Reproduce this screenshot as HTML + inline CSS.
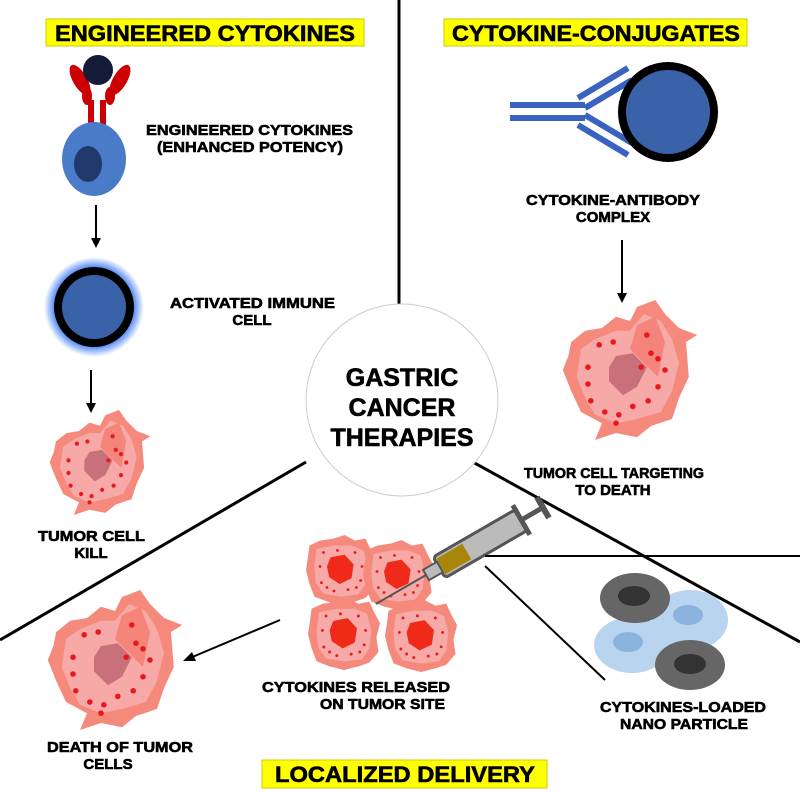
<!DOCTYPE html><html><head><style>body{margin:0;background:#fff}svg{display:block}
text{font-family:"Liberation Sans",sans-serif;font-weight:bold;fill:#000;stroke:#000;stroke-width:0.6}</style></head><body>
<svg width="800" height="792" viewBox="0 0 800 792">
<defs>
<radialGradient id="glow"><stop offset="80%" stop-color="#5b8ff5"/><stop offset="100%" stop-color="#5b8ff5" stop-opacity="0"/></radialGradient>
<symbol id="tum" viewBox="0 0 100 100">
<path d="M8,30 L18,22 L30,20 L40,12 L50,15 L55,5 L68,0 L75,10 L85,20 L98,25 L90,30 L92,55 L85,70 L80,85 L65,90 L55,98 L40,95 L25,100 L30,88 L15,80 L8,65 L2,50 L6,40 Z" fill="#f58a7c"/>
<path d="M15,35 L25,28 L40,22 L50,22 L60,10 L72,15 L80,28 L85,45 L80,65 L72,80 L55,85 L40,88 L25,82 L18,70 L12,55 Z" fill="#f6a9a6"/>
<path d="M55,18 L68,12 L75,30 L70,55 L60,45 L50,35 Z" fill="#f5847a"/>
<path d="M40,40 L52,38 L62,48 L55,62 L45,68 L35,58 L35,48 Z" fill="#c9717a"/>
<g fill="#e8191c"><circle cx="28" cy="32" r="2"/><circle cx="38" cy="30" r="2"/><circle cx="20" cy="48" r="2"/><circle cx="20" cy="60" r="2"/><circle cx="22" cy="72" r="2"/><circle cx="32" cy="80" r="2"/><circle cx="42" cy="82" r="2"/><circle cx="52" cy="76" r="2"/><circle cx="63" cy="72" r="2"/><circle cx="70" cy="62" r="2"/><circle cx="62" cy="25" r="2"/><circle cx="65" cy="38" r="2"/><circle cx="70" cy="42" r="2"/><circle cx="58" cy="48" r="2"/><circle cx="75" cy="50" r="2"/><circle cx="40" cy="88" r="2"/></g>
</symbol>
<symbol id="tc" viewBox="0 0 100 100">
<path d="M5,15 L20,8 L40,5 L55,0 L70,8 L85,5 L92,20 L100,35 L95,55 L98,75 L85,90 L70,95 L50,100 L30,95 L12,88 L5,70 L0,50 L3,30 Z" fill="#f58a7c"/>
<path d="M15,20 L40,15 L65,15 L82,22 L88,45 L85,70 L75,85 L50,88 L25,84 L14,68 L12,45 Z" fill="#f6a9a6"/>
<polygon points="35,32 55,28 68,42 65,62 48,70 33,60 30,45" fill="#f02a18"/>
<g fill="#e8191c"><circle cx="25" cy="25" r="2"/><circle cx="45" cy="22" r="2"/><circle cx="70" cy="25" r="2"/><circle cx="80" cy="45" r="2"/><circle cx="78" cy="65" r="2"/><circle cx="60" cy="78" r="2"/><circle cx="40" cy="80" r="2"/><circle cx="22" cy="68" r="2"/><circle cx="20" cy="45" r="2"/><circle cx="30" cy="75" r="2"/><circle cx="72" cy="75" r="2"/></g>
</symbol>
</defs>
<line x1="399" y1="0" x2="399" y2="305" stroke="#000" stroke-width="3"/>
<line x1="0" y1="640" x2="306" y2="462" stroke="#000" stroke-width="3"/>
<line x1="460" y1="455" x2="800" y2="642" stroke="#000" stroke-width="3"/>
<circle cx="402" cy="400" r="96" fill="#fff" stroke="#ccc" stroke-width="1"/>
<text x="402" y="386" font-size="25" text-anchor="middle">GASTRIC</text>
<text x="402" y="416" font-size="25" text-anchor="middle">CANCER</text>
<text x="402" y="446" font-size="25" text-anchor="middle">THERAPIES</text>
<rect x="46" y="19" width="318" height="27" fill="#ffff00" stroke="#cc0"/>
<text x="55" y="41" font-size="22" textLength="300" lengthAdjust="spacingAndGlyphs">ENGINEERED CYTOKINES</text>
<rect x="444" y="19" width="303" height="27" fill="#ffff00" stroke="#cc0"/>
<text x="452" y="41" font-size="22" textLength="288" lengthAdjust="spacingAndGlyphs">CYTOKINE-CONJUGATES</text>
<rect x="262" y="760" width="285" height="28" fill="#ffff00" stroke="#cc0"/>
<text x="275" y="782" font-size="22" textLength="260" lengthAdjust="spacingAndGlyphs">LOCALIZED DELIVERY</text>
<g fill="#c00">
<ellipse cx="80" cy="80" rx="7" ry="17" transform="rotate(-30 80 80)"/>
<ellipse cx="120" cy="80" rx="7" ry="17" transform="rotate(30 120 80)"/>
<ellipse cx="87" cy="96" rx="5" ry="9"/><ellipse cx="110" cy="96" rx="5" ry="9"/>
<rect x="88" y="100" width="6" height="25"/><rect x="100" y="100" width="6" height="25"/>
</g>
<circle cx="98" cy="70" r="15" fill="#141c3a"/>
<ellipse cx="94" cy="159" rx="32" ry="37" fill="#4a7bc8"/>
<ellipse cx="88" cy="164" rx="14" ry="18" fill="#223a6b"/>
<text x="146" y="135" font-size="15" textLength="207" lengthAdjust="spacingAndGlyphs">ENGINEERED CYTOKINES</text>
<text x="157" y="152" font-size="15" textLength="186" lengthAdjust="spacingAndGlyphs">(ENHANCED POTENCY)</text>
<line x1="96" y1="205" x2="96" y2="240" stroke="#000" stroke-width="2"/><polygon points="91,238 101,238 96,248" fill="#000"/>
<circle cx="94" cy="307" r="50" fill="url(#glow)"/>
<circle cx="94" cy="307" r="40" fill="#000"/>
<circle cx="94" cy="307" r="32" fill="#3a62a8"/>
<text x="170" y="308" font-size="15" textLength="165" lengthAdjust="spacingAndGlyphs">ACTIVATED IMMUNE</text>
<text x="252" y="325" font-size="15" text-anchor="middle">CELL</text>
<line x1="91" y1="370" x2="91" y2="405" stroke="#000" stroke-width="2"/><polygon points="86,403 96,403 91,413" fill="#000"/>
<use href="#tum" x="45" y="410" width="110" height="105"/>
<text x="38" y="541" font-size="15" textLength="107" lengthAdjust="spacingAndGlyphs">TUMOR CELL</text>
<text x="91" y="558" font-size="15" text-anchor="middle">KILL</text>
<g stroke="#3a62c0" stroke-width="6" fill="none">
<line x1="510" y1="105" x2="585" y2="105"/><line x1="510" y1="118" x2="585" y2="118"/>
<line x1="578" y1="98" x2="628" y2="68"/><line x1="585" y1="108" x2="632" y2="80"/>
<line x1="578" y1="125" x2="628" y2="155"/><line x1="585" y1="115" x2="632" y2="143"/>
</g>
<circle cx="668" cy="112" r="50" fill="#000"/><circle cx="668" cy="112" r="42" fill="#3a62a8"/>
<text x="526" y="205" font-size="15" textLength="174" lengthAdjust="spacingAndGlyphs">CYTOKINE-ANTIBODY</text>
<text x="613" y="222" font-size="15" text-anchor="middle">COMPLEX</text>
<line x1="622" y1="240" x2="622" y2="295" stroke="#000" stroke-width="2"/><polygon points="617,293 627,293 622,303" fill="#000"/>
<use href="#tum" x="560" y="290" width="140" height="160"/>
<text x="524" y="478" font-size="15" textLength="180" lengthAdjust="spacingAndGlyphs">TUMOR CELL TARGETING</text>
<text x="613" y="495" font-size="15" text-anchor="middle">TO DEATH</text>
<use href="#tc" x="305" y="535" width="72" height="70"/>
<use href="#tc" x="362" y="540" width="72" height="70"/>
<use href="#tc" x="308" y="598" width="72" height="72"/>
<use href="#tc" x="384" y="600" width="74" height="72"/>
<g transform="translate(8,0) rotate(-30 470 545)">
<rect x="425" y="533" width="95" height="24" rx="4" fill="#bbb" stroke="#555" stroke-width="3"/>
<rect x="427" y="536" width="30" height="18" fill="#a8860a"/>
<rect x="410" y="539" width="16" height="12" fill="#bbb" stroke="#555" stroke-width="2"/>
<line x1="410" y1="545" x2="352" y2="545" stroke="#555" stroke-width="2"/>
<line x1="520" y1="545" x2="545" y2="545" stroke="#555" stroke-width="5"/>
<line x1="545" y1="533" x2="545" y2="557" stroke="#555" stroke-width="6"/>
<line x1="520" y1="528" x2="520" y2="562" stroke="#555" stroke-width="5"/>
</g>
<line x1="485" y1="556" x2="800" y2="556" stroke="#000" stroke-width="2"/>
<line x1="485" y1="566" x2="605" y2="680" stroke="#000" stroke-width="2"/>
<ellipse cx="690" cy="620" rx="38" ry="30" fill="#b8d4ee"/><ellipse cx="688" cy="615" rx="15" ry="10" fill="#8ab4de"/>
<ellipse cx="632" cy="645" rx="38" ry="28" fill="#b8d4ee"/><ellipse cx="628" cy="642" rx="15" ry="10" fill="#8ab4de"/>
<ellipse cx="635" cy="598" rx="35" ry="25" fill="#666"/><ellipse cx="634" cy="596" rx="16" ry="10" fill="#333"/>
<ellipse cx="690" cy="665" rx="35" ry="25" fill="#666"/><ellipse cx="690" cy="664" rx="16" ry="10" fill="#333"/>
<text x="262" y="692" font-size="15" textLength="188" lengthAdjust="spacingAndGlyphs">CYTOKINES RELEASED</text>
<text x="320" y="709" font-size="15" textLength="125" lengthAdjust="spacingAndGlyphs">ON TUMOR SITE</text>
<text x="600" y="712" font-size="15" textLength="166" lengthAdjust="spacingAndGlyphs">CYTOKINES-LOADED</text>
<text x="620" y="729" font-size="15" textLength="128" lengthAdjust="spacingAndGlyphs">NANO PARTICLE</text>
<line x1="280" y1="620" x2="190" y2="658" stroke="#000" stroke-width="2"/><polygon points="183,661 192,652 196,661" fill="#000"/>
<use href="#tum" x="45" y="590" width="140" height="140"/>
<text x="47" y="752" font-size="15" textLength="146" lengthAdjust="spacingAndGlyphs">DEATH OF TUMOR</text>
<text x="108" y="769" font-size="15" text-anchor="middle">CELLS</text>
</svg></body></html>
